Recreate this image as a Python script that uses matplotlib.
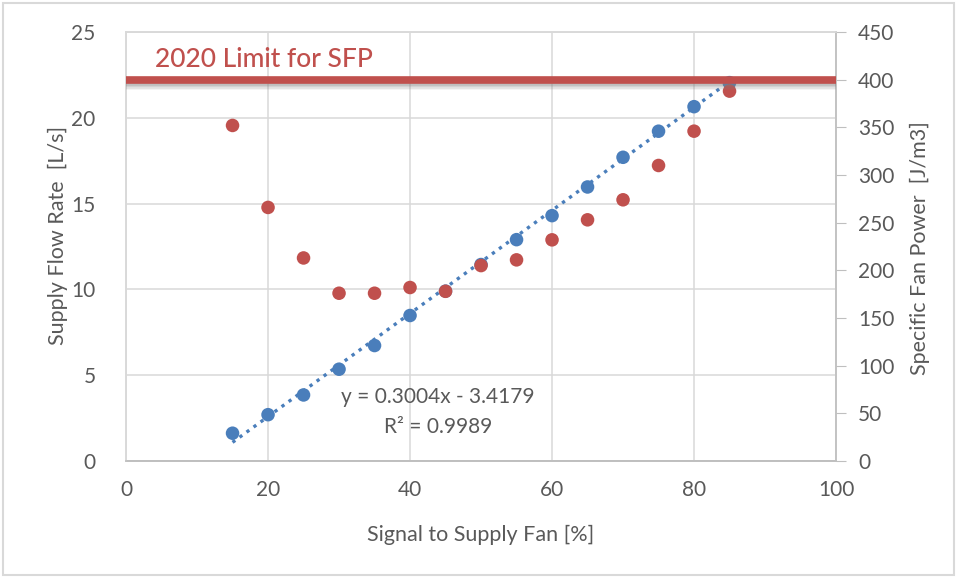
import matplotlib
matplotlib.use("Agg")
import matplotlib.pyplot as plt
import matplotlib.patheffects as pe
import numpy as np

signal = [15, 20, 25, 30, 35, 40, 45, 50, 55, 60, 65, 70, 75, 80, 85]
flow = [1.62, 2.7, 3.85, 5.35, 6.73, 8.48, 9.9, 11.45, 12.9, 14.3, 15.97, 17.7, 19.22, 20.65, 22.05]
sfp = [352, 266, 213, 176, 176, 182, 178, 205, 211, 232, 253, 274, 310, 346, 388]
limit_sfp = 400
fit_slope = 0.3004
fit_intercept = -3.4179
fit_range = [15, 85]

xticks = [0, 20, 40, 60, 80, 100]
yticks_left = [0, 5, 10, 15, 20, 25]
yticks_right = [0, 50, 100, 150, 200, 250, 300, 350, 400, 450]

blue = "#4A7EBB"
red = "#C0504D"
gray_text = "#595959"
grid_c = "#D9D9D9"

plt.rcParams['font.family'] = ['Lato', 'DejaVu Sans']

fig = plt.figure(figsize=(9.57, 5.78), dpi=100)
ax = fig.add_axes([0.1317, 0.2024, 0.8736 - 0.1317, 0.9446 - 0.2024])
ax2 = ax.twinx()

ax.set_xlim(0, 100)
ax.set_ylim(0, 25)
ax2.set_ylim(0, 450)

ax.set_xticks(xticks)
ax.set_yticks(yticks_left)
ax2.set_yticks(yticks_right)
ax.grid(True, color=grid_c, linewidth=1.1)
ax.set_axisbelow(True)

for a in (ax, ax2):
    for s in a.spines.values():
        s.set_color(grid_c)
        s.set_linewidth(1.2)
ax.spines['bottom'].set_color("#BFBFBF")
ax2.spines['bottom'].set_color("#BFBFBF")
ax2.spines['right'].set_color("#BFBFBF")

ax.tick_params(axis='x', length=0, labelsize=15, labelcolor=gray_text, pad=14)
ax.tick_params(axis='y', length=0, labelsize=15, labelcolor=gray_text, pad=22)
ax2.tick_params(axis='y', length=7, color="#BFBFBF", labelsize=15, labelcolor=gray_text, pad=9)

# fit line
xf = np.array(fit_range, dtype=float)
ax.plot(xf, fit_slope * xf + fit_intercept, linestyle=(0, (1, 1.6)), color=blue,
        linewidth=2.4, zorder=3)
ax.scatter(signal, flow, s=95, color=blue, zorder=4, edgecolors='none')
ax2.scatter(signal, sfp, s=95, color=red, zorder=4, edgecolors='none')

shadows = [pe.SimpleLineShadow(offset=(0, -o), shadow_color='gray', alpha=a)
           for o, a in [(4.5, 0.10), (3.5, 0.14), (2.5, 0.18), (1.5, 0.2)]]
ax2.axhline(limit_sfp, color=red, linewidth=5.5, zorder=5, solid_capstyle='butt',
            path_effects=shadows + [pe.Normal()])
ax2.text(4.1, 421, "2020 Limit for SFP", color=red, fontsize=19, fontweight='medium',
         ha='left', va='center')

ax.text(43.9, 3.75, "y = 0.3004x - 3.4179", color=gray_text, fontsize=15, ha='center', va='center')
ax.text(43.9, 2.0, "R² = 0.9989", color=gray_text, fontsize=15, ha='center', va='center')

ax.text(0.5, -0.1725, "Signal to Supply Fan [%]", transform=ax.transAxes, fontsize=15.5,
        color=gray_text, ha='center', va='center')
ax.text(-0.0958, 0.525, "Supply Flow Rate  [L/s]", transform=ax.transAxes, fontsize=15.5,
        color=gray_text, ha='center', va='center', rotation=90)
ax.text(1.118, 0.497, "Specific Fan Power  [J/m3]", transform=ax.transAxes, fontsize=15.5,
        color=gray_text, ha='center', va='center', rotation=90)

fig.patches.append(plt.Rectangle((0.003, 0.005), 0.994, 0.99, transform=fig.transFigure,
                                 fill=False, edgecolor="#D9D9D9", linewidth=1.5))

fig.savefig("out.png", dpi=100)
